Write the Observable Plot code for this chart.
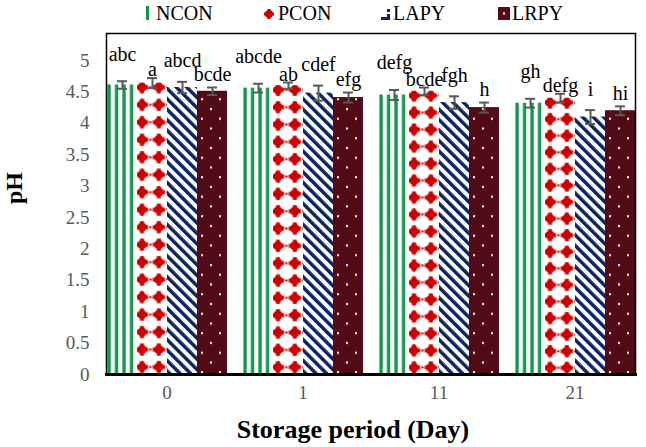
<!DOCTYPE html>
<html>
<head>
<meta charset="utf-8">
<script src="https://cdn.jsdelivr.net/npm/d3@7"></script>
<script src="https://cdn.jsdelivr.net/npm/@observablehq/plot@0.6"></script>
<style>
  body { margin: 0; background: #fff; font-family: "Liberation Serif", "Times New Roman", serif; }
  #wrap { position: relative; width: 646px; }
  #legend { position: relative; height: 26px; width: 646px; font-size: 20px; color: #000; }
  #legend .lab { position: absolute; top: 0; line-height: 26px; }
  #legend svg { position: absolute; }
</style>
</head>
<body>
<svg width="0" height="0" style="position:absolute">
  <defs>
    <pattern id="pNCON" patternUnits="objectBoundingBox" width="0.25" height="1">
      <rect x="0" y="0" width="20" height="600" fill="#ffffff"/>
      <rect x="0.4" y="0" width="3.3" height="600" fill="#10964a"/>
    </pattern>
    <pattern id="pPCON" patternUnits="objectBoundingBox" x="-0.116" y="-0.012" width="0.562" height="0.06">
      <rect width="20" height="20" fill="#ffffff"/>
      <circle cx="8.5" cy="8.2" r="4.7" fill="#cc0000"/>
      <rect x="2.4" y="6.2" width="12.2" height="4" fill="#cc0000"/>
      <rect x="6.5" y="2.1" width="4" height="12.2" fill="#cc0000"/>
      <rect x="0" y="7.2" width="1.3" height="2" fill="#cc0000"/>
      <rect x="15.7" y="7.2" width="1.3" height="2" fill="#cc0000"/>
    </pattern>
    <pattern id="pLAPY" patternUnits="userSpaceOnUse" width="7.4" height="7.4" patternTransform="rotate(-45)">
      <rect width="7.4" height="7.4" fill="#ffffff"/>
      <rect x="0" y="0" width="3.5" height="7.4" fill="#0b2468"/>
    </pattern>
    <pattern id="pLRPY" patternUnits="userSpaceOnUse" width="18" height="19.5">
      <rect width="18" height="19.5" fill="#500b16"/>
      <rect x="4" y="4" width="2" height="2" fill="#ffffff"/>
      <rect x="13" y="13.75" width="2" height="2" fill="#ffffff"/>
    </pattern>
  </defs>
</svg>
<div id="wrap">
  <div id="legend">
    <svg style="left:146px;top:6px" width="4" height="14"><rect width="3" height="14" fill="#10964a"/></svg>
    <span class="lab" style="left:156px">NCON</span>
    <svg style="left:263px;top:8px" width="12" height="12"><circle cx="6" cy="6" r="4" fill="#cc0000"/><rect x="1" y="4.5" width="10" height="3" fill="#cc0000"/><rect x="4.5" y="1" width="3" height="10" fill="#cc0000"/></svg>
    <span class="lab" style="left:278px">PCON</span>
    <svg style="left:381px;top:9px" width="9" height="11"><rect x="6" y="0" width="3" height="3" fill="#0b2468"/><rect x="0" y="8" width="7" height="3" fill="#0b2468"/><rect x="6" y="5" width="3" height="6" fill="#0b2468"/></svg>
    <span class="lab" style="left:393px">LAPY</span>
    <svg style="left:498px;top:7px" width="12" height="13"><rect width="12" height="13" fill="#500b16"/><rect x="5" y="5.5" width="2" height="2" fill="#ffffff"/></svg>
    <span class="lab" style="left:512px">LRPY</span>
  </div>
  <div id="chart"></div>
</div>
<script>
// ---- data ----
const days = ["0", "1", "11", "21"];
const series = ["NCON", "PCON", "LAPY", "LRPY"];
const ncon = [4.61, 4.56, 4.45, 4.32];
const pcon = [4.64, 4.60, 4.51, 4.40];
const lapy = [4.57, 4.48, 4.33, 4.10];
const lrpy = [4.51, 4.41, 4.25, 4.20];
const nconErr = [0.06, 0.07, 0.08, 0.07];
const pconErr = [0.08, 0.05, 0.06, 0.07];
const lapyErr = [0.09, 0.12, 0.10, 0.11];
const lrpyErr = [0.06, 0.08, 0.08, 0.07];
const nconLab = ["abc", "abcde", "defg", "gh"];
const pconLab = ["a", "ab", "bcde", "defg"];
const lapyLab = ["abcd", "cdef", "fgh", "i"];
const lrpyLab = ["bcde", "efg", "h", "hi"];
const yTicks = [0, 0.5, 1, 1.5, 2, 2.5, 3, 3.5, 4, 4.5, 5];
const xTitle = "Storage period (Day)";
const yTitle = "pH";

// ---- build table ----
const values = [ncon, pcon, lapy, lrpy];
const errs = [nconErr, pconErr, lapyErr, lrpyErr];
const labels = [nconLab, pconLab, lapyLab, lrpyLab];
const rows = [];
days.forEach((day, i) => series.forEach((s, j) => rows.push({
  day, series: s, value: values[j][i], err: errs[j][i], label: labels[j][i]
})));

const labelDy = {NCON: -27, PCON: -8, LAPY: -21, LRPY: -13};
const serif = "'Liberation Serif', 'Times New Roman', serif";
const grey = "#595959";

const marks = [];
series.forEach(s => {
  marks.push(Plot.barY(rows.filter(d => d.series === s), {
    fx: "day", x: "series", y: "value", fill: `url(#p${s})`
  }));
});
marks.push(Plot.ruleX(rows, {fx: "day", x: "series", y1: d => d.value - d.err, y2: d => d.value + d.err, stroke: grey, strokeWidth: 2}));
marks.push(Plot.tickY(rows, {fx: "day", x: "series", y: d => d.value + d.err, stroke: grey, strokeWidth: 2, insetLeft: 10, insetRight: 10}));
marks.push(Plot.tickY(rows, {fx: "day", x: "series", y: d => d.value - d.err, stroke: grey, strokeWidth: 2, insetLeft: 10, insetRight: 10}));
series.forEach(s => {
  marks.push(Plot.text(rows.filter(d => d.series === s), {
    fx: "day", x: "series", y: d => d.value + d.err, text: "label",
    dy: labelDy[s], fill: "black", fontSize: 20, fontFamily: serif, lineAnchor: "middle"
  }));
});
marks.push(Plot.frame({stroke: "black", strokeWidth: 1.5, facet: "super"}));
marks.push(Plot.frame({anchor: "bottom", stroke: "black", strokeWidth: 3, facet: "super"}));
marks.push(Plot.text([xTitle], {text: d => d, frameAnchor: "bottom", dy: 63, dx: -18, facet: "super",
  fill: "black", fontSize: 26, fontWeight: "bold", fontFamily: serif}));
marks.push(Plot.text([yTitle], {text: d => d, frameAnchor: "left", dx: -92, rotate: -90, facet: "super",
  fill: "black", fontSize: 24, fontWeight: "bold", fontFamily: serif}));

const chart = Plot.plot({
  width: 646,
  height: 421,
  marginTop: 7,
  marginBottom: 73,
  marginLeft: 98,
  marginRight: 3,
  style: {fontFamily: serif, fontSize: "19px", color: grey, background: "white", overflow: "visible"},
  fx: {domain: days, paddingInner: 0.112, paddingOuter: 0.056, label: null, tickSize: 0, tickPadding: 11, axis: "bottom"},
  x: {domain: series, padding: 0, axis: null},
  y: {domain: [0, 5.43], ticks: yTicks, tickFormat: d => String(d), tickSize: 0, tickPadding: 17, label: null},
  marks
});
document.getElementById("chart").appendChild(chart);
</script>
</body>
</html>
